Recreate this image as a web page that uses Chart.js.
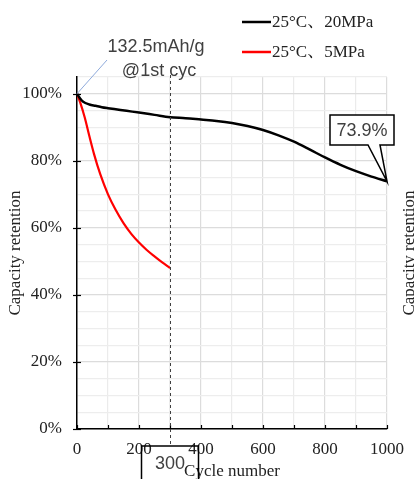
<!DOCTYPE html>
<html>
<head>
<meta charset="utf-8">
<script src="https://cdn.jsdelivr.net/npm/chart.js@4"></script>
<style>
  html, body { margin: 0; padding: 0; background: #fff; }
  #wrap { width: 414px; height: 479px; position: relative; }
</style>
</head>
<body>
<div id="wrap"><canvas id="cycleChart" width="414" height="479"></canvas></div>
<script>
// 25°C、20MPa
const cycles20 = [0, 10, 20, 40, 60, 80, 100, 130, 160, 200, 250, 300, 350, 400, 450, 500, 550, 600, 650, 700, 750, 800, 850, 900, 950, 1000];
const retention20 = [100, 98.6, 97.6, 96.8, 96.4, 96.0, 95.7, 95.3, 94.9, 94.4, 93.7, 93.0, 92.7, 92.3, 91.9, 91.3, 90.4, 89.2, 87.6, 85.7, 83.4, 81.0, 78.8, 76.9, 75.3, 73.9];
// 25°C、5MPa
const cycles5 = [0, 10, 25, 40, 55, 75, 100, 125, 150, 175, 200, 225, 250, 275, 300];
const retention5 = [100, 97.5, 92.9, 87.3, 82.0, 76.0, 70.0, 65.3, 61.4, 58.2, 55.6, 53.4, 51.5, 49.7, 48.0];

const seriesNames = ['25°C、20MPa', '25°C、5MPa'];
const seriesColors = ['#000000', '#ff0000'];
const firstCapacity = ['132.5mAh/g', '@1st cyc'];
const markCycle = 300;
const endLabel = '73.9%';

const serif = "'Liberation Serif', 'Noto Serif CJK JP', 'Noto Sans CJK JP', serif";
const sans = "'Liberation Sans', Arial, sans-serif";

function toPoints(xs, ys) {
    return xs.map((x, i) => ({ x: x, y: ys[i] }));
}

// extra drawing: tick marks, titles, legend and callouts
const extras = {
    id: 'extras',
    afterDraw(chart) {
        const ctx = chart.ctx;
        const xs = chart.scales.x;
        const ys = chart.scales.y;
        const area = chart.chartArea;

        ctx.save();
        // tick marks
        ctx.strokeStyle = '#000';
        ctx.lineWidth = 1.2;
        for (let v = 0; v <= 100; v += 20) {
            const py = Math.round(ys.getPixelForValue(v)) + 0.5;
            ctx.beginPath();
            ctx.moveTo(area.left - 4, py);
            ctx.lineTo(area.left + 4, py);
            ctx.stroke();
        }
        for (let v = 0; v <= 1000; v += 100) {
            const px = Math.round(xs.getPixelForValue(v)) + 0.5;
            ctx.beginPath();
            ctx.moveTo(px, area.bottom);
            ctx.lineTo(px, area.bottom - 4);
            ctx.stroke();
        }

        // dashed marker at cycle 300
        const mx = Math.round(xs.getPixelForValue(markCycle)) + 0.5;
        ctx.strokeStyle = '#404040';
        ctx.lineWidth = 1;
        ctx.setLineDash([3, 3]);
        ctx.beginPath();
        ctx.moveTo(mx, 75);
        ctx.lineTo(mx, 446);
        ctx.stroke();
        ctx.setLineDash([]);

        // axis titles
        ctx.fillStyle = '#222';
        ctx.font = '17px ' + serif;
        ctx.textAlign = 'center';
        ctx.textBaseline = 'middle';
        ctx.fillText('Cycle number', (area.left + area.right) / 2, 472);
        ctx.save();
        ctx.translate(16, (area.top + area.bottom) / 2);
        ctx.rotate(-Math.PI / 2);
        ctx.fillText('Capacity retention', 0, 0);
        ctx.restore();
        ctx.save();
        ctx.translate(410, (area.top + area.bottom) / 2);
        ctx.rotate(-Math.PI / 2);
        ctx.fillText('Capacity retention', 0, 0);
        ctx.restore();

        // box around 300
        ctx.strokeStyle = '#000';
        ctx.lineWidth = 1.5;
        ctx.strokeRect(141.5, 446, 57, 40);
        ctx.fillStyle = '#404040';
        ctx.font = '18px ' + sans;
        ctx.fillText(String(markCycle), 170, 464);

        // legend
        ctx.textAlign = 'left';
        ctx.font = '17px ' + serif;
        seriesNames.forEach((name, i) => {
            const ly = 22 + i * 30;
            ctx.strokeStyle = seriesColors[i];
            ctx.lineWidth = 2.5;
            ctx.beginPath();
            ctx.moveTo(242, ly);
            ctx.lineTo(271, ly);
            ctx.stroke();
            ctx.fillStyle = '#222';
            ctx.fillText(name, 272, ly + 1);
        });

        // first cycle capacity callout
        const x0 = xs.getPixelForValue(0);
        const y0 = ys.getPixelForValue(100);
        ctx.strokeStyle = '#8eaadb';
        ctx.lineWidth = 1;
        ctx.beginPath();
        ctx.moveTo(x0, y0);
        ctx.lineTo(107, 60);
        ctx.stroke();
        ctx.fillStyle = '#404040';
        ctx.font = '18px ' + sans;
        ctx.textAlign = 'center';
        ctx.fillText(firstCapacity[0], 156, 47);
        ctx.fillText(firstCapacity[1], 159, 71);

        // end value callout
        const ex = xs.getPixelForValue(1000);
        const ey = ys.getPixelForValue(retention20[retention20.length - 1]);
        ctx.beginPath();
        ctx.moveTo(330, 115);
        ctx.lineTo(394, 115);
        ctx.lineTo(394, 145);
        ctx.lineTo(380, 145);
        ctx.lineTo(ex, ey);
        ctx.lineTo(368, 145);
        ctx.lineTo(330, 145);
        ctx.closePath();
        ctx.fillStyle = '#fff';
        ctx.fill();
        ctx.strokeStyle = '#000';
        ctx.lineWidth = 1.5;
        ctx.stroke();
        ctx.fillStyle = '#404040';
        ctx.fillText(endLabel, 362, 131);
        ctx.restore();
    }
};

const ctx = document.getElementById('cycleChart').getContext('2d');
new Chart(ctx, {
    type: 'line',
    data: {
        datasets: [{
            label: seriesNames[0],
            data: toPoints(cycles20, retention20),
            borderColor: seriesColors[0],
            borderWidth: 2.5,
            pointRadius: 0,
            cubicInterpolationMode: 'monotone'
        }, {
            label: seriesNames[1],
            data: toPoints(cycles5, retention5),
            borderColor: seriesColors[1],
            borderWidth: 2.2,
            pointRadius: 0,
            cubicInterpolationMode: 'monotone'
        }]
    },
    options: {
        responsive: false,
        animation: false,
        devicePixelRatio: 1,
        layout: { padding: { top: 77, right: 27, left: 0, bottom: 0 } },
        plugins: {
            legend: { display: false },
            tooltip: { enabled: false }
        },
        scales: {
            x: {
                type: 'linear',
                min: 0,
                max: 1000,
                afterFit: (s) => { s.height = 50; },
                ticks: {
                    stepSize: 100,
                    autoSkip: false,
                    maxRotation: 0,
                    padding: 10,
                    color: '#222',
                    font: { family: serif, size: 17 },
                    callback: (v) => (v % 200 === 0 ? String(v) : '')
                },
                grid: {
                    drawTicks: false,
                    color: (c) => (c.tick && c.tick.value % 200 === 0 ? '#dcdcdc' : '#ebebeb'),
                    lineWidth: 1.2
                },
                border: { color: '#000', width: 1.5 }
            },
            y: {
                min: 0,
                max: 105,
                afterFit: (s) => { s.width = 77; },
                ticks: {
                    stepSize: 5,
                    autoSkip: false,
                    padding: 15,
                    color: '#222',
                    font: { family: serif, size: 17 },
                    callback: (v) => (v % 20 === 0 && v <= 100 ? v + '%' : '')
                },
                grid: {
                    drawTicks: false,
                    color: (c) => (c.tick && c.tick.value % 20 === 0 ? '#dcdcdc' : '#ededed'),
                    lineWidth: 1.2
                },
                border: { color: '#000', width: 1.5 }
            }
        }
    },
    plugins: [extras]
});
</script>
</body>
</html>
